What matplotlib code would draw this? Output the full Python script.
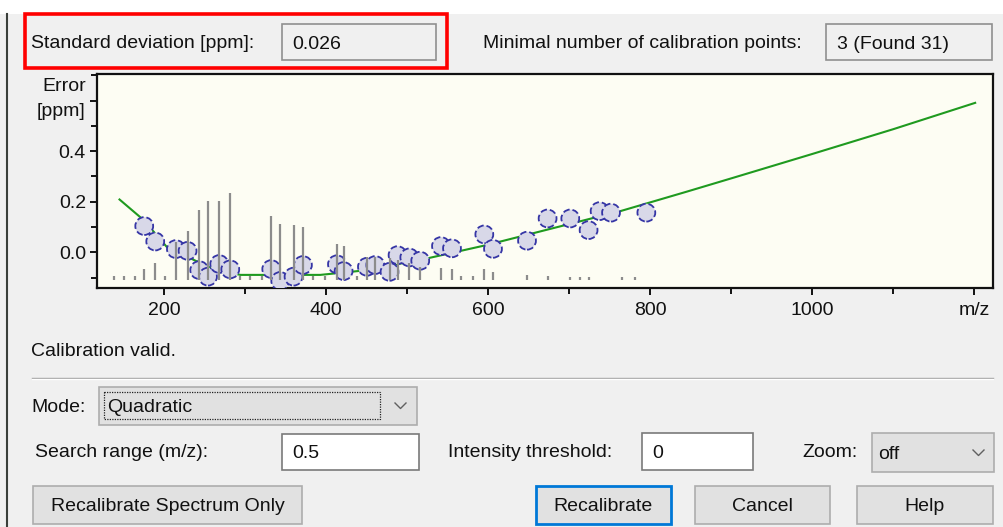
import matplotlib
matplotlib.use('Agg')
import matplotlib.pyplot as plt
from matplotlib.patches import Rectangle
from matplotlib.ticker import FixedLocator, MultipleLocator

plt.rcParams['font.family'] = ['Liberation Sans', 'DejaVu Sans']

# ---------------- data ----------------
cal_mz = [175.3, 188.9, 214.4, 228.8, 243.2, 254.0, 267.9, 281.5, 332.1, 343.2,
          359.6, 371.2, 413.2, 421.4, 450.2, 460.5, 478.1, 488.0, 502.5, 516.0,
          541.6, 555.2, 595.1, 605.8, 647.8, 673.2, 701.2, 723.8, 737.4, 751.5, 795.1]
cal_err = [0.104, 0.043, 0.013, 0.006, -0.070, -0.096, -0.046, -0.067, -0.066, -0.113,
           -0.096, -0.050, -0.047, -0.074, -0.057, -0.050, -0.077, -0.011, -0.020, -0.033,
           0.025, 0.016, 0.071, 0.014, 0.046, 0.134, 0.134, 0.088, 0.163, 0.157, 0.157]

fit_mz = [144.8, 174.5, 203.0, 228.0, 260.5, 294.0, 392.6, 442.0, 516.0, 598.0,
          705.0, 763.0, 845.0, 902.5, 1000.0, 1100.0, 1201.0]
fit_err = [0.209, 0.128, 0.022, -0.017, -0.066, -0.089, -0.089, -0.073, -0.030, 0.029,
           0.116, 0.163, 0.240, 0.295, 0.389, 0.487, 0.591]

peak_mz = [138.3, 150.6, 163.3, 175.3, 188.9, 200.4, 214.4, 228.8, 243.2, 254.0,
           267.9, 281.5, 293.8, 306.2, 320.6, 332.1, 343.2, 359.6, 371.2, 383.6,
           398.8, 413.2, 421.4, 437.9, 450.2, 460.5, 478.1, 488.0, 502.5, 516.0,
           541.6, 555.2, 566.3, 581.1, 595.1, 605.8, 647.8, 673.2, 701.2, 713.6,
           723.8, 765.1, 781.5]
peak_int = [4, 4, 4, 12.3, 19.3, 4, 43.7, 56.2, 80.6, 91.0,
            91.0, 100, 4, 4, 4, 74.0, 65.1, 63.1, 61.2, 4,
            4, 41.9, 39.1, 4, 27.1, 27.1, 25.6, 23.3, 19.3, 14.7,
            14.0, 12.8, 4, 4, 12.8, 8.8, 6.2, 4.2, 3, 3,
            3, 3, 3]

x_ticks = [200, 400, 600, 800, 1000, 1200]
x_tick_labels = ['200', '400', '600', '800', '1000', 'm/z']
y_ticks = [0.0, 0.2, 0.4, 0.6]
y_tick_labels = ['0.0', '0.2', '0.4', '']

std_dev_text = '0.026'
min_points_text = '3 (Found 31)'
mode_text = 'Quadratic'
search_range_text = '0.5'
threshold_text = '0'
zoom_text = 'off'

# ---------------- figure ----------------
W, H = 1004, 527
fig = plt.figure(figsize=(W / 100, H / 100), dpi=100)
fig.patch.set_facecolor('#f0f0f0')

ui = fig.add_axes([0, 0, 1, 1], zorder=0)
ui.set_xlim(0, W)
ui.set_ylim(H, 0)
ui.axis('off')

FS = 14.0
TXT = '#111111'
DY = 1.8

def rect(x0, y0, x1, y1, fc='none', ec='#adadad', lw=1.2, ls='-', z=1):
    ui.add_patch(Rectangle((x0, y0), x1 - x0, y1 - y0, facecolor=fc, edgecolor=ec,
                           linewidth=lw, linestyle=ls, zorder=z))

def label(x, y, s, ha='left', fs=FS, color=TXT):
    ui.text(x, y + DY, s, ha=ha, va='center', fontsize=fs, color=color, zorder=5)

# top white strip and left border
rect(0, 0, W, 14, fc='white', ec='none', lw=0)
ui.plot([7, 7], [14, H], color='#3a3f3a', lw=1.5, zorder=2)

# red highlight box
rect(25, 14, 447, 68, ec='#ff0000', lw=2.6, z=3)
label(31, 42, 'Standard deviation [ppm]:')
rect(282, 24, 436, 60, fc='#f0f0f0', ec='#8f8f8f', lw=1.2)
label(292, 43, std_dev_text)

label(483, 42, 'Minimal number of calibration points:')
rect(826, 24, 992, 60, fc='#f0f0f0', ec='#8f8f8f', lw=1.2)
label(837, 43, min_points_text)

# axis captions
label(86, 85, 'Error', ha='right')
label(85, 110, '[ppm]', ha='right')

label(31, 350, 'Calibration valid.')
ui.plot([32, 993], [378, 378], color='#a0a0a0', lw=1.0, zorder=2)
ui.plot([32, 993], [379.2, 379.2], color='#ffffff', lw=1.0, zorder=2)

# mode combo
label(31, 406, 'Mode:')
rect(99, 387, 417, 425, fc='#e1e1e1', ec='#adadad', lw=1.2)
rect(104, 392, 380, 419, ec='#222222', lw=0.9, ls=(0, (1, 1)))
label(107, 406, mode_text)
ui.plot([395, 400.5, 406], [403, 408.5, 403], color='#606060', lw=1.0, zorder=4)

# search range / threshold / zoom
label(35, 451, 'Search range (m/z):')
rect(282, 434, 419, 470, fc='white', ec='#7a7a7a', lw=1.2)
label(292, 452, search_range_text)

label(448, 451, 'Intensity threshold:')
rect(642, 433, 753, 470, fc='white', ec='#7a7a7a', lw=1.2)
label(652, 452, threshold_text)

label(802, 451, 'Zoom:')
rect(872, 433, 994, 472, fc='#e1e1e1', ec='#adadad', lw=1.2)
label(878, 453, zoom_text)
ui.plot([973, 978.5, 984], [450, 455.5, 450], color='#606060', lw=1.0, zorder=4)

# buttons
rect(33, 486, 302, 524, fc='#e1e1e1', ec='#adadad', lw=1.2)
label(167.5, 505, 'Recalibrate Spectrum Only', ha='center')
rect(536, 486, 671, 524, fc='#e1e1e1', ec='#0078d7', lw=2.0)
label(603.5, 505, 'Recalibrate', ha='center')
rect(695, 486, 830, 524, fc='#e1e1e1', ec='#adadad', lw=1.2)
label(762.5, 505, 'Cancel', ha='center')
rect(857, 486, 993, 524, fc='#e1e1e1', ec='#adadad', lw=1.2)
label(925, 505, 'Help', ha='center')

# ---------------- plot ----------------
L, R, T, B = 97, 993, 74, 288.3
ax = fig.add_axes([L / W, 1 - B / H, (R - L) / W, (B - T) / H], zorder=1)
ax.set_facecolor('#fdfdf3')
ax.set_xlim(117, 1223)
ax.set_ylim(-0.142, 0.705)

base = -0.109
full = 0.342
ax.vlines(peak_mz, base, [base + p / 100 * full for p in peak_int],
          color='#8c8c8c', lw=1.6, zorder=4)
ax.plot(fit_mz, fit_err, color='#1f9a1f', lw=1.5, zorder=2)
ax.scatter(cal_mz, cal_err, s=165, facecolor='#d8d8e8', edgecolor='#3535a5',
           linewidths=1.3, linestyles='--', zorder=3)

ax.xaxis.set_major_locator(FixedLocator(x_ticks))
ax.set_xticklabels(x_tick_labels)
ax.xaxis.set_minor_locator(MultipleLocator(100))
ax.yaxis.set_major_locator(FixedLocator(y_ticks))
ax.set_yticklabels(y_tick_labels)
ax.yaxis.set_minor_locator(MultipleLocator(0.1))
ax.tick_params(which='major', length=5, width=1.4, color='#111111',
               labelsize=14, labelcolor=TXT, pad=3)
ax.tick_params(axis='x', which='major', pad=5)
ax.tick_params(which='minor', length=4, width=1.4, color='#111111')
for sp in ax.spines.values():
    sp.set_linewidth(1.6)
    sp.set_color('#111111')

fig.savefig('out.png', dpi=100, facecolor=fig.get_facecolor())
